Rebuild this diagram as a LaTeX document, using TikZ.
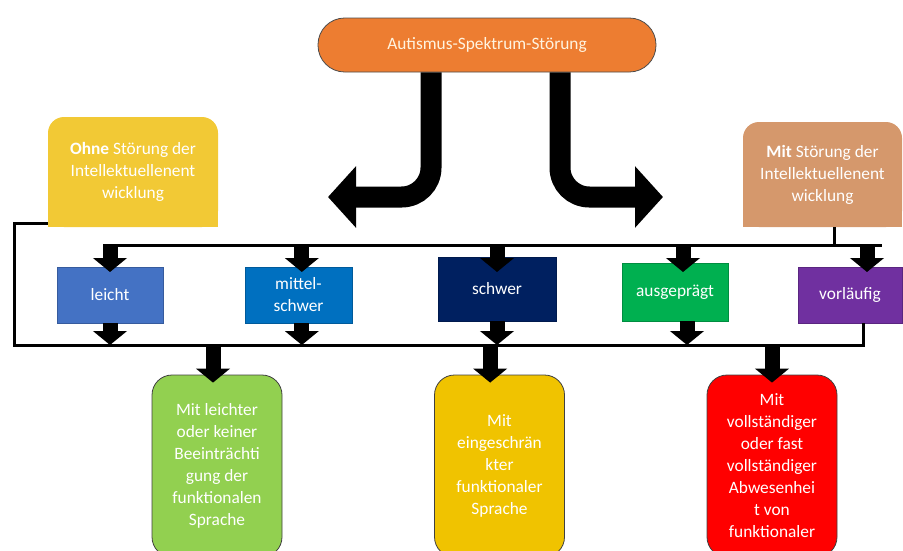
\documentclass[tikz,border=0pt]{standalone}
\usepackage{fontspec}
\setmainfont{Carlito}
\usepackage{tikz}
\usetikzlibrary{arrows.meta,backgrounds}
\definecolor{asorange}{HTML}{ED7D31}
\definecolor{ohnecol}{HTML}{F2C935}
\definecolor{mitcol}{HTML}{D5986C}
\definecolor{leichtcol}{HTML}{4472C4}
\definecolor{mittelcol}{HTML}{0070C0}
\definecolor{schwercol}{HTML}{002060}
\definecolor{ausgcol}{HTML}{00B050}
\definecolor{vorlcol}{HTML}{7030A0}
\definecolor{greencol}{HTML}{92D050}
\definecolor{yellowcol}{HTML}{F0C300}
\definecolor{redcol}{HTML}{FF0000}
\definecolor{creamcol}{HTML}{FFF4E0}

\begin{document}
\begin{tikzpicture}[x=0.75pt,y=-0.75pt,
                every node/.style={font=\fontsize{13pt}{16.5pt}\selectfont,text=white,align=center,inner sep=0pt},
                headbox/.style={fill=#1,rounded corners=12pt},
                levelbox/.style={fill=#1,draw=#1!80!black,line width=0.5pt},
                endbox/.style={fill=#1,draw=black!75,line width=0.6pt,rounded corners=15pt,minimum width=97.5pt,minimum height=136.5pt},
                bus/.style={line width=2.25pt},
                smallarrow/.style={line width=11.25pt,-{Triangle[width=25pt,length=10.5pt]}},
                bigarrow/.style={line width=15.75pt,rounded corners=22pt,-{Triangle[width=45pt,length=21pt]}}]
                \useasboundingbox (0,0) rectangle (903,550);
                \clip (0,0) rectangle (903,550);
                % Top
                \node[fill=asorange,draw=black!70,line width=0.6pt,rounded corners=20pt,minimum width=253.5pt,minimum height=40.5pt,text=creamcol] (autism) at (487,45) {Autismus-Spektrum-Störung};
                \coordinate (lefttip) at (328,197);
                \coordinate (righttip) at (663,197);
                \draw[bigarrow] ([xshift=-42pt]autism.south) |- (lefttip);
                \draw[bigarrow] ([xshift=54.75pt]autism.south) |- (righttip);
                % Intellectual development
                \node[headbox=ohnecol,minimum width=127.5pt,minimum height=82.5pt] (ohne) at (133,172) {\textbf{Ohne} Störung der\\Intellektuellenent\\wicklung};
                \node[headbox=mitcol,minimum width=119.25pt,minimum height=78.75pt] (mit) at (822.5,174.5) {\textbf{Mit} Störung der\\Intellektuellenent\\wicklung};
                \begin{scope}[on background layer]
                \fill[ohnecol] ([yshift=20pt]ohne.south west) rectangle (ohne.south east);
                \fill[mitcol] ([yshift=20pt]mit.south west) rectangle (mit.south east);
                \end{scope}
                % Levels
                \node[levelbox=leichtcol,minimum width=79.5pt,minimum height=42pt] (leicht) at (110,295) {leicht};
                \node[levelbox=mittelcol,minimum width=80.25pt,minimum height=42pt] (mittel) at (298.5,295) {mittel-\\schwer};
                \node[levelbox=schwercol,minimum width=88.5pt,minimum height=48pt] (schwer) at (497,289) {schwer};
                \node[levelbox=ausgcol,minimum width=79.5pt,minimum height=43.5pt] (ausg) at (675,292) {ausgeprägt};
                \node[levelbox=vorlcol,minimum width=78pt,minimum height=42pt] (vorl) at (850,295) {vorläufig};
                % Bus lines
                \coordinate (topbusW) at (103,245);
                \coordinate (topbusE) at (882,245);
                \coordinate (toptip) at (0,272);
                \coordinate (botbusW) at (14,345);
                \coordinate (botbusE) at (863,345);
                \draw[bus] (topbusW) -- (topbusE);
                \draw[bus] ([xshift=9pt]mit.south) -- ([xshift=9pt]mit.south |- topbusE);
                \draw[bus] ([yshift=3pt]ohne.south west) -| (botbusW) -- (botbusE) -- (botbusE |- vorl.south);
                % Arrows into levels
                \draw[smallarrow] (leicht.north |- topbusW) -- (leicht.north |- toptip);
                \draw[smallarrow] ([xshift=2.5pt]mittel.north |- topbusW) -- ([xshift=2.5pt]mittel.north |- toptip);
                \draw[smallarrow] (schwer.north |- topbusW) -- (schwer.north |- toptip);
                \draw[smallarrow] ([xshift=6pt]ausg.north |- topbusW) -- ([xshift=6pt]ausg.north |- toptip);
                \draw[smallarrow] ([xshift=12.75pt]vorl.north |- topbusW) -- ([xshift=12.75pt]vorl.north |- toptip);
                % Arrows out of levels
                \draw[smallarrow] (leicht.south) -- (leicht.south |- botbusW);
                \draw[smallarrow] ([xshift=2.5pt]mittel.south) -- ([xshift=2.5pt]mittel.south |- botbusW);
                \draw[smallarrow] (schwer.south) -- (schwer.south |- botbusW);
                \draw[smallarrow] ([xshift=9pt]ausg.south) -- ([xshift=9pt]ausg.south |- botbusW);
                % Language
                \node[endbox=greencol] (green) at (217,466) {Mit leichter\\oder keiner\\Beeinträchti\\gung der\\funktionalen\\Sprache};
                \node[endbox=yellowcol] (yellow) at (499.5,466) {Mit\\eingeschrän\\kter\\funktionaler\\Sprache};
                \node[endbox=redcol] (red) at (772,466) {Mit\\vollständiger\\oder fast\\vollständiger\\Abwesenhei\\t von\\funktionaler};
                \draw[smallarrow] ([xshift=-3pt]green.north |- botbusW) -- ([xshift=-3pt,yshift=-6pt]green.north);
                \draw[smallarrow] ([xshift=-7pt]yellow.north |- botbusW) -- ([xshift=-7pt,yshift=-6pt]yellow.north);
                \draw[smallarrow] (red.north |- botbusW) -- ([yshift=-6pt]red.north);
\end{tikzpicture}
\end{document}
